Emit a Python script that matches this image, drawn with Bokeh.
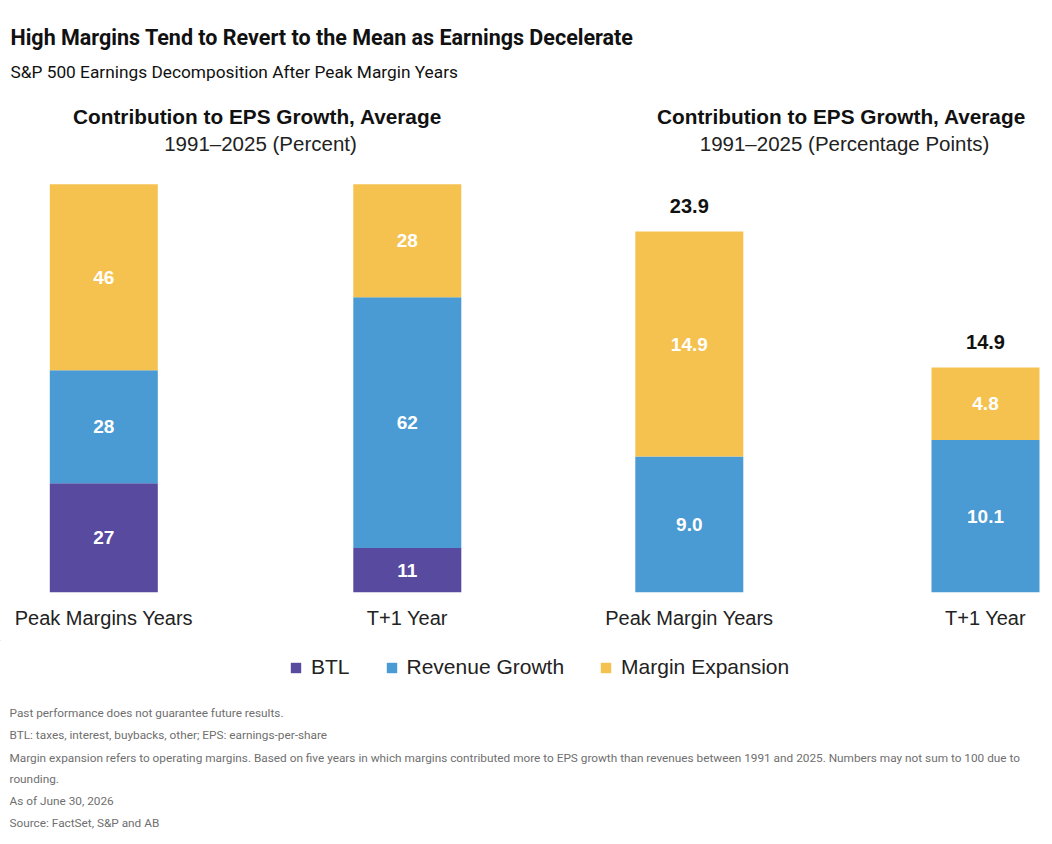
from bokeh.plotting import figure
from bokeh.layouts import column, row
from bokeh.models import Range1d, Label, Legend, LegendItem, FixedTicker, ColumnDataSource
from bokeh.embed import file_html
from bokeh.resources import INLINE
from bokeh.core.properties import value

# ---------------- data ----------------
categories_left = ["Peak Margins Years", "T+1 Year"]
categories_right = ["Peak Margin Years", "T+1 Year"]
series_names = ["BTL", "Revenue Growth", "Margin Expansion"]
btl_pct = [27, 11]
revenue_pct = [28, 62]
margin_pct = [46, 28]
revenue_pp = [9.0, 10.1]
margin_pp = [14.9, 4.8]
totals_pp = [23.9, 14.9]

footnotes = [
    "Past performance does not guarantee future results.",
    "BTL: taxes, interest, buybacks, other; EPS: earnings-per-share",
    "Margin expansion refers to operating margins. Based on five years in which margins contributed more to EPS growth than revenues between 1991 and 2025. Numbers may not sum to 100 due to",
    "rounding.",
    "As of June 30, 2026",
    "Source: FactSet, S&P and AB",
]

# ---------------- style ----------------
COLORS = ["#574A9F", "#4A9AD3", "#F5C24F"]
FONT = "Liberation Sans"
TFONT = "Roboto"
W = 1052
HEAD_H = 165
PANEL_H = 475
BOT_H = 204
PANEL_W = 526
AXIS_H = 48


def base_fig(width, height, x_range, y_range):
    p = figure(width=width, height=height, x_range=x_range, y_range=y_range,
               output_backend="svg", toolbar_location=None,
               x_axis_type=None, y_axis_type=None,
               min_border_left=0, min_border_right=0, min_border_top=0, min_border_bottom=0)
    p.outline_line_color = None
    p.background_fill_color = "white"
    p.border_fill_color = "white"
    p.grid.visible = False
    return p


def panel(cats, stacks, colors, labels_fmt, px_per_unit, first_center_px, unit_px, bar_px, totals=None):
    frame_h = PANEL_H - AXIS_H
    xs = list(range(len(cats)))
    x_start = -first_center_px / unit_px
    x_range = Range1d(x_start, x_start + PANEL_W / unit_px)
    y_range = Range1d(0, frame_h / px_per_unit)
    p = figure(width=PANEL_W, height=PANEL_H, x_range=x_range, y_range=y_range,
               output_backend="svg", toolbar_location=None, y_axis_type=None,
               min_border_left=0, min_border_right=0, min_border_top=0, min_border_bottom=AXIS_H)
    p.outline_line_color = None
    p.grid.visible = False
    p.border_fill_color = "white"

    data = {"x": xs}
    names = []
    for i, s in enumerate(stacks):
        data["s%d" % i] = s
        names.append("s%d" % i)
    src = ColumnDataSource(data)
    p.vbar_stack(names, x="x", width=bar_px / unit_px, color=colors, line_color=None, source=src)

    # labels in segment centers
    lx, ly, lt = [], [], []
    for j in range(len(xs)):
        base = 0
        for s in stacks:
            v = s[j]
            lx.append(xs[j]); ly.append(base + v / 2); lt.append(labels_fmt.format(v))
            base += v
    p.text(x=lx, y=ly, text=lt, text_color="white", text_font=value(FONT),
           text_font_style="bold", text_font_size="19px", text_align="center", text_baseline="middle")
    if totals is not None:
        p.text(x=xs, y=totals, text=[labels_fmt.format(t) for t in totals], text_color="#111111",
               text_font=value(FONT), text_font_style="bold", text_font_size="20px",
               text_align="center", text_baseline="bottom", y_offset=-19)

    ax = p.xaxis[0]
    ax.ticker = FixedTicker(ticks=xs)
    ax.major_label_overrides = {x: c for x, c in zip(xs, cats)}
    ax.axis_line_color = None
    ax.major_tick_line_color = None
    ax.minor_tick_line_color = None
    ax.major_label_standoff = 8
    ax.major_label_text_font = FONT
    ax.major_label_text_font_size = "20px"
    ax.major_label_text_color = "#222222"
    return p


# ---------------- header ----------------
head = base_fig(W, HEAD_H, Range1d(0, W), Range1d(HEAD_H, 0))
head.add_layout(Label(x=10, y=37, text="High Margins Tend to Revert to the Mean as Earnings Decelerate",
                      text_font=TFONT, text_font_style="bold", text_font_size="21.5px",
                      text_color="#111111", text_baseline="middle"))
head.add_layout(Label(x=10, y=71, text="S&P 500 Earnings Decomposition After Peak Margin Years",
                      text_font=TFONT, text_font_size="17.3px", text_color="#111111", text_baseline="middle"))
for cx, sub_cx, sub in [(257, 260, "1991\u20132025 (Percent)"), (841, 844, "1991\u20132025 (Percentage Points)")]:
    head.add_layout(Label(x=cx, y=116, text="Contribution to EPS Growth, Average", text_font=FONT,
                          text_font_style="bold", text_font_size="20.8px", text_color="#111111",
                          text_align="center", text_baseline="middle"))
    head.add_layout(Label(x=sub_cx, y=143, text=sub, text_font=FONT, text_font_size="20.5px",
                          text_color="#222222", text_align="center", text_baseline="middle"))

# ---------------- panels ----------------
left = panel(categories_left, [btl_pct, revenue_pct, margin_pct], COLORS, "{:.0f}",
             px_per_unit=4.043, first_center_px=103.3, unit_px=303.5, bar_px=108)
right = panel(categories_right, [revenue_pp, margin_pp], COLORS[1:], "{:.1f}",
              px_per_unit=15.1, first_center_px=162.8, unit_px=296.2, bar_px=108, totals=totals_pp)

# ---------------- legend + footnotes ----------------
bot = base_fig(W, BOT_H, Range1d(0, W), Range1d(HEAD_H + PANEL_H + BOT_H, HEAD_H + PANEL_H))
items = []
for name, c in zip(series_names, COLORS):
    # legend swatch renderer, placed outside the visible range
    r = bot.vbar(x=[-500], top=[0], bottom=[1], width=1, fill_color=c, line_color=None)
    items.append(LegendItem(label=name, renderers=[r]))
legend = Legend(items=items, orientation="horizontal", location=(289, 165),
                glyph_width=13, glyph_height=13, label_standoff=9, spacing=35,
                padding=0, margin=0, border_line_color=None, background_fill_alpha=0,
                label_text_font=FONT, label_text_font_size="21px", label_text_color="#222222")
bot.add_layout(legend)

for i, (t, y) in enumerate(zip(footnotes, [712, 734, 757, 778, 800, 822])):
    bot.add_layout(Label(x=9, y=y, text=t, text_font=TFONT, text_font_size="11.8px",
                         text_color="#6f6f6f", text_baseline="middle"))

layout = column(head, row(left, right), bot)
open("out.html", "w").write(file_html(layout, INLINE))
